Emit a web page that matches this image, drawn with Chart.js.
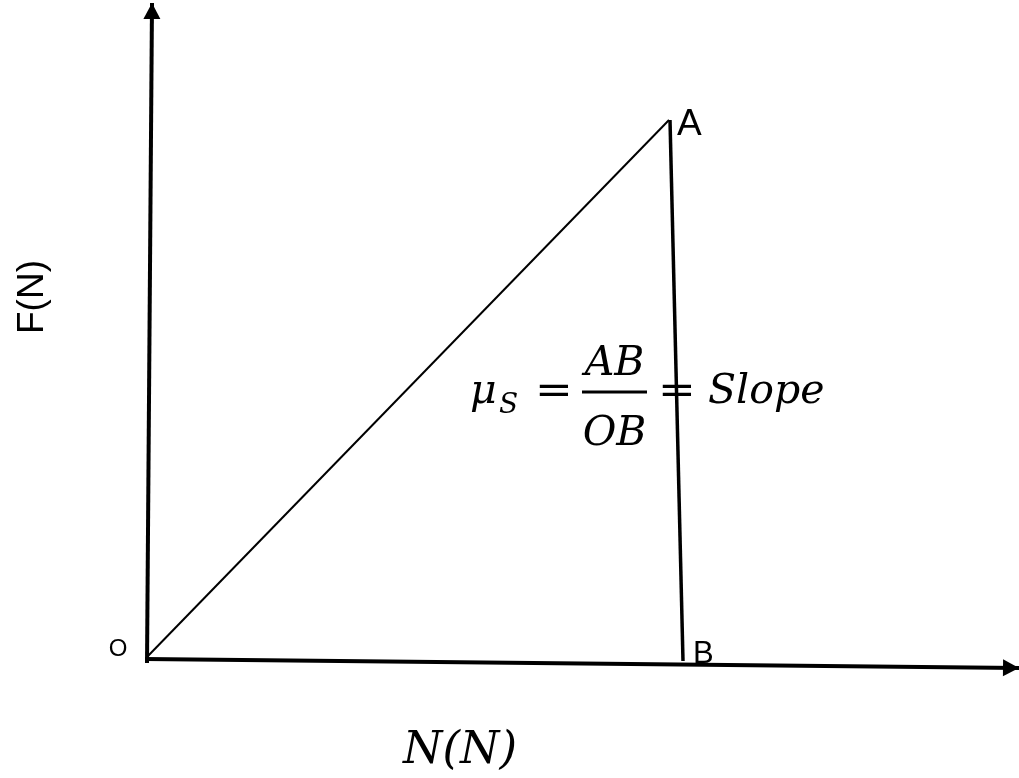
<!DOCTYPE html>
<html>
<head>
<meta charset="utf-8">
<title>Static friction: F against N</title>
<script src="https://cdn.jsdelivr.net/npm/chart.js@4.4.0/dist/chart.umd.min.js"></script>
<style>
  html, body { margin: 0; padding: 0; background: #fff; }
  #wrap { width: 1019px; height: 778px; position: relative; }
</style>
</head>
<body>
<div id="wrap"><canvas id="chart"></canvas></div>
<script>
// units are arbitrary (about 10px of the original sketch each), origin at O
const xRange = [-14.7, 87.2];
const yRange = [-12.1, 65.7];

const ptO = [0, 0];
const ptA = [52.2, 53.7];
const ptA2 = [52.3, 53.7];
const ptB = [53.6, -0.4];

const yAxisLine = [[0, -0.6], [0.5, 65.4]];
const xAxisLine = [[-0.2, -0.2], [87.2, -1.1]];
const fractionBar = [[43.5, 26.5], [50.0, 26.5]];

// text: [label, x, y] in the same units
const pointLabels = [
  ['O', -2.9, 0.1],
  ['A', 53.0, 52.2],
  ['B', 54.6, -0.6],
];
const axisTitles = {
  y: ['F(N)', -11.4, 36.0],
  x: ['N(N)', 31.3, -10.6],
};
const formulaParts = [
  ['\u03BC', 32.3, 25.4, 'main'],
  ['S', 35.2, 24.4, 'sub'],
  ['=', 40.7, 25.4, 'eq'],
  ['AB', 46.75, 28.2, 'num'],
  ['OB', 46.75, 21.2, 'num'],
  ['=', 53.0, 25.4, 'eq'],
  ['Slope', 56.1, 25.4, 'main'],
];

const toXY = (pts) => pts.map((p) => ({ x: p[0], y: p[1] }));

function lineSet(pts, width, arrow) {
  return {
    data: toXY(pts),
    showLine: true,
    borderColor: '#000',
    backgroundColor: '#000',
    borderWidth: width,
    pointRadius: 0,
    borderCapStyle: 'butt',
    arrow: !!arrow,
  };
}

const arrowHeads = {
  id: 'arrowHeads',
  afterDatasetsDraw(chart) {
    const ctx = chart.ctx;
    chart.data.datasets.forEach((ds, i) => {
      if (!ds.arrow) return;
      const pts = chart.getDatasetMeta(i).data;
      const tip = pts[pts.length - 1];
      const prev = pts[pts.length - 2];
      const ang = Math.atan2(tip.y - prev.y, tip.x - prev.x);
      const len = 16, half = 8.5;
      ctx.save();
      ctx.translate(tip.x, tip.y);
      ctx.rotate(ang);
      ctx.beginPath();
      ctx.moveTo(0, 0);
      ctx.lineTo(-len, -half);
      ctx.lineTo(-len, half);
      ctx.closePath();
      ctx.fillStyle = '#000';
      ctx.fill();
      ctx.restore();
    });
  },
};

const MATH = '"DejaVu Serif", "Liberation Serif", serif';
const SANS = '"Liberation Sans", Arial, sans-serif';

const textLayer = {
  id: 'textLayer',
  afterDatasetsDraw(chart) {
    const ctx = chart.ctx;
    const sx = chart.scales.x, sy = chart.scales.y;
    const px = (v) => sx.getPixelForValue(v);
    const py = (v) => sy.getPixelForValue(v);
    ctx.save();
    ctx.fillStyle = '#000';
    ctx.textBaseline = 'alphabetic';

    pointLabels.forEach(([t, x, y]) => {
      ctx.font = (t === 'O' ? '24px ' : t === 'B' ? '31px ' : '37px ') + SANS;
      ctx.textAlign = t === 'O' ? 'center' : 'left';
      ctx.fillText(t, px(x), py(y));
    });

    // rotated F(N)
    const [yt, yx, yy] = axisTitles.y;
    ctx.save();
    ctx.translate(px(yx), py(yy));
    ctx.rotate(-Math.PI / 2);
    ctx.font = '37px ' + SANS;
    ctx.textAlign = 'center';
    ctx.textBaseline = 'middle';
    ctx.fillText(yt, 0, 0);
    ctx.restore();

    const [xt, xx, xy] = axisTitles.x;
    ctx.font = 'italic 45px ' + MATH;
    ctx.textAlign = 'center';
    ctx.fillText(xt, px(xx), py(xy));

    formulaParts.forEach(([t, x, y, kind]) => {
      if (kind === 'eq') {
        ctx.save();
        ctx.translate(px(x), py(y));
        ctx.scale(1.1, 1);
        ctx.font = '41px ' + MATH;
        ctx.textAlign = 'center';
        ctx.fillText(t, 0, 0);
        ctx.restore();
        return;
      }
      ctx.font = kind === 'sub' ? 'italic 28px ' + MATH : 'italic 41px ' + MATH;
      ctx.textAlign = kind === 'num' ? 'center' : 'left';
      ctx.fillText(t, px(x), py(y));
    });
    ctx.restore();
  },
};

new Chart(document.getElementById('chart'), {
  type: 'scatter',
  data: {
    datasets: [
      lineSet([ptO, ptA], 2),
      lineSet([ptA2, ptB], 3.5),
      lineSet(fractionBar, 3),
      lineSet(yAxisLine, 4, true),
      lineSet(xAxisLine, 4, true),
    ],
  },
  options: {
    responsive: true,
    maintainAspectRatio: false,
    animation: false,
    layout: { padding: 0 },
    plugins: { legend: { display: false }, tooltip: { enabled: false } },
    scales: {
      x: { type: 'linear', display: false, min: xRange[0], max: xRange[1] },
      y: { type: 'linear', display: false, min: yRange[0], max: yRange[1] },
    },
  },
  plugins: [arrowHeads, textLayer],
});
</script>
</body>
</html>
